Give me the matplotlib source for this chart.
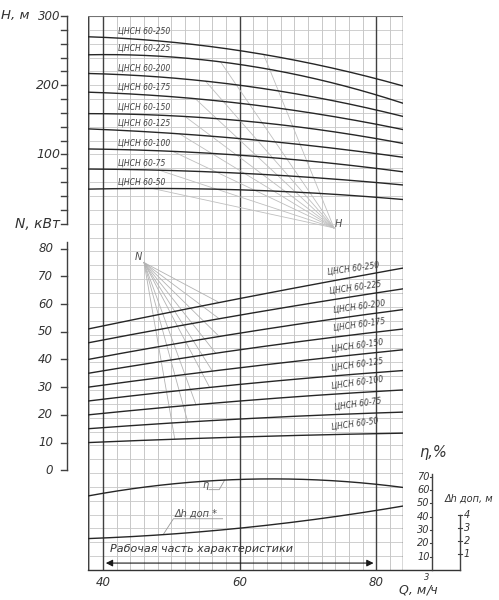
import numpy as np
import matplotlib
matplotlib.use("Agg")
import matplotlib.pyplot as plt

plt.rcParams['font.family'] = ['DejaVu Sans']
plt.rcParams['font.style'] = 'italic'

# read-off values at Q = 37.8 (left edge), 60, 83.9 (right edge)
Q3 = [37.8, 60.0, 83.9]
MODELS = ["250", "225", "200", "175", "150", "125", "100", "75", "50"]
H_VALS = [[270, 250, 199], [244, 230, 174], [217, 200, 155], [190, 174, 136],
          [159, 149, 116], [137, 123, 96], [108, 99, 75], [79, 73, 56], [50, 49, 35]]
N_VALS = [[51, 62, 73], [46, 56, 65.5], [40, 49.5, 58], [35, 43.5, 51],
          [30, 37, 43.5], [25, 31, 36], [20, 25, 29], [15, 18.5, 21], [10, 12, 13.4]]
ETA_VALS = [55.6, 68, 62]
DH_VALS = [2.2, 3.0, 4.7]

# label positions (Q) and fan target points
H_LABEL_Q = 42.2
N_LABEL_Q = [74.5, 74.8, 75.4, 75.4, 75.2, 75.2, 75.2, 75.6, 75.2]
H_FAN_Q = [47.2, 48.2, 50.2, 51.2, 52.0, 53.5, 55.0, 57.2, 63.5][::-1]
N_FAN_Q = [57, 57, 57, 56.5, 56, 55.6, 53.6, 52.4, 50.5]


def u_H(h):
    return 25 + np.asarray(h) / 20.0


def u_N(n):
    return 7.2 + np.asarray(n) / 5.0


def u_eta(e):
    return np.asarray(e) / 10.4


def u_dh(d):
    return 0.2 + 0.94 * np.asarray(d)


def curve(vals):
    c = np.polyfit(Q3, vals, 2)
    return np.poly1d(c)


fig = plt.figure(figsize=(4.99, 6.0), dpi=100)
ax = fig.add_axes([88 / 499, 30 / 600, 315 / 499, 554 / 600])
x0, x1 = 37.8, 83.9
ax.set_xlim(x0, x1)
ax.set_ylim(0, 40)
ax.axis("off")

# grid
for q in np.arange(38, 84, 2):
    ax.plot([q, q], [0, 40], color="0.75", lw=0.6, zorder=1)
for u in range(0, 41):
    ax.plot([x0, x1], [u, u], color="0.78", lw=0.6, zorder=1)
for q in [x0, 40, 60, 80, x1]:
    ax.plot([q, q], [0, 40], color="0.25", lw=1.0, zorder=2)
ax.plot([x0, x1], [40, 40], color="0.45", lw=0.8)

qq = np.linspace(x0, x1, 200)
lab = dict(fontsize=5.5, color="0.25", style="italic")
for m, hv, nv, lq, hf, nf in zip(MODELS, H_VALS, N_VALS, N_LABEL_Q, H_FAN_Q, N_FAN_Q):
    fh = curve(hv)
    ax.plot(qq, u_H(fh(qq)), color="0.15", lw=1.0, zorder=3)
    ax.text(H_LABEL_Q, u_H(fh(H_LABEL_Q)) + 0.3, "ЦНСН 60-" + m, **lab)
    ax.plot([73.8, hf], [24.7, u_H(fh(hf))], color="0.75", lw=0.6, zorder=2)
    fn = curve(nv)
    ax.plot(qq, u_N(fn(qq)), color="0.15", lw=1.0, zorder=3)
    ax.text(lq - 1.8, u_N(fn(lq)) + 0.35, "ЦНСН 60-" + m, rotation=8, **lab)
    ax.plot([46.0, nf], [22.2, u_N(fn(nf))], color="0.7", lw=0.6, zorder=2)

ax.text(73.9, 24.8, "H", fontsize=7, color="0.3")
ax.text(44.6, 22.4, "N", fontsize=7, color="0.3")

fe = curve(ETA_VALS)
ax.plot(qq, u_eta(fe(qq)), color="0.15", lw=1.0, zorder=3)
ax.text(54.6, 5.9, "η", fontsize=7, color="0.3")
ax.plot([55.5, 57, 57.8], [5.8, 5.8, u_eta(fe(57.8))], color="0.6", lw=0.6)

fd = curve(DH_VALS)
ax.plot(qq, u_dh(fd(qq)), color="0.15", lw=1.0, zorder=3)
ax.text(50.5, 3.85, "Δh доп *", fontsize=7, color="0.3")
ax.plot([57.5, 50.3, 48.8], [3.7, 3.7, u_dh(fd(48.8))], color="0.6", lw=0.6)

# working range arrow
ax.annotate("", xy=(40, 0.5), xytext=(80, 0.5),
            arrowprops=dict(arrowstyle="<|-|>", color="0.1", lw=0.8))
ax.text(41, 1.3, "Рабочая часть характеристики", fontsize=8, color="0.2")

# bottom axis line and Q labels
ax.plot([x0, 92.3], [0, 0], color="0.2", lw=1.0, clip_on=False)
for q in [40, 60, 80]:
    ax.text(q, -0.45, str(q), ha="center", va="top", fontsize=8.5, color="0.2")
ax.text(83.3, -1.45, "Q, м", fontsize=9, color="0.2", va="center")
ax.text(86.9, -0.55, "3", fontsize=6, color="0.2", va="center")
ax.text(87.4, -1.45, "/ч", fontsize=9, color="0.2", va="center")

# left H / N axis
xs = 34.7
ax.plot([xs, xs], [25, 40], color="0.25", lw=1.0, clip_on=False)
for h in range(0, 301, 20):
    ax.plot([xs - 0.9, xs], [u_H(h)] * 2, color="0.25", lw=1.0, clip_on=False)
for h in [100, 200]:
    ax.text(xs - 1.0, u_H(h), str(h), ha="right", va="center", fontsize=9, color="0.2")
ax.text(xs - 1.0, 40, "300", ha="right", va="center", fontsize=8.5, color="0.2")
ax.text(25.1, 40, "H, м", ha="left", va="center", fontsize=9.5, color="0.2")
ax.text(xs - 1.0, 25, "N, кВт", ha="right", va="center", fontsize=10, color="0.2")
ax.plot([xs, xs], [u_N(0), 23.7], color="0.25", lw=1.0, clip_on=False)
for n in range(0, 81, 10):
    ax.plot([xs - 0.9, xs], [u_N(n)] * 2, color="0.25", lw=1.0, clip_on=False)
    ax.text(xs - 2.0, u_N(n), str(n), ha="right", va="center", fontsize=8.5, color="0.2")

# right η and Δh axes
xe = 88.2
ax.plot([xe, xe], [0, u_eta(72)], color="0.25", lw=1.0, clip_on=False)
for e in range(10, 71, 10):
    ax.plot([xe - 0.4, xe], [u_eta(e)] * 2, color="0.25", lw=0.8, clip_on=False)
    ax.text(xe - 0.4, u_eta(e), str(e), ha="right", va="center", fontsize=7, color="0.2")
ax.text(xe - 2.0, u_eta(88), "η,%", fontsize=10.5, color="0.2", va="center")
xd = 92.3
ax.plot([xd, xd], [0, u_dh(4)], color="0.25", lw=1.0, clip_on=False)
for d in range(1, 5):
    ax.plot([xd - 0.3, xd + 0.3], [u_dh(d)] * 2, color="0.25", lw=0.8, clip_on=False)
    ax.text(xd + 0.5, u_dh(d), str(d), ha="left", va="center", fontsize=7, color="0.2")
ax.text(90.0, u_dh(5.3), "Δh доп, м", fontsize=7, color="0.2", va="center")

fig.savefig("out.png", dpi=100)
